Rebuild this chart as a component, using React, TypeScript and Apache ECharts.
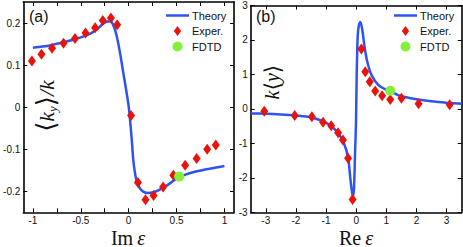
import React, { useEffect, useRef } from 'react';
import * as echarts from 'echarts';

// ---- Panel (a): <k_y>/k versus Im ε ----
const theoryAX = [-1.0, -0.9, -0.8, -0.7, -0.6, -0.5, -0.4, -0.33, -0.265, -0.23, -0.195, -0.16, -0.125, -0.09, -0.056, -0.021, 0.003, 0.031, 0.048, 0.065, 0.084, 0.11, 0.136, 0.17, 0.205, 0.29, 0.4, 0.5, 0.6, 0.7, 0.8, 0.9, 1.0];
const theoryAY = [0.141, 0.144, 0.148, 0.153, 0.159, 0.166, 0.175, 0.185, 0.199, 0.203, 0.204, 0.195, 0.169, 0.129, 0.082, 0.034, -0.003, -0.073, -0.125, -0.155, -0.176, -0.19, -0.198, -0.203, -0.204, -0.2, -0.186, -0.17, -0.16, -0.153, -0.148, -0.144, -0.14];
const experAX = [-1.01, -0.91, -0.8, -0.68, -0.56, -0.45, -0.35, -0.27, -0.185, -0.12, 0.025, 0.097, 0.176, 0.26, 0.36, 0.467, 0.59, 0.71, 0.82, 0.91];
const experAY = [0.11, 0.126, 0.14, 0.152, 0.163, 0.176, 0.189, 0.206, 0.212, 0.196, -0.02, -0.179, -0.22, -0.21, -0.19, -0.162, -0.138, -0.122, -0.1, -0.09];
const fdtdAX = [0.527];
const fdtdAY = [-0.165];
const xLabelsA = [-1, -0.5, 0, 0.5, 1];
const xTicksA = [-1, -0.75, -0.5, -0.25, 0, 0.25, 0.5, 0.75, 1];
const yLabelsA = [-0.2, -0.1, 0, 0.1, 0.2];

// ---- Panel (b): k<y> versus Re ε ----
const theoryBX = [-3.5, -3.0, -2.5, -2.0, -1.5, -1.08, -0.8, -0.58, -0.42, -0.27, -0.2, -0.15, -0.11, -0.073, -0.04, -0.007, 0.015, 0.05, 0.093, 0.137, 0.2, 0.27, 0.37, 0.51, 0.73, 1.01, 1.12, 1.45, 2.0, 2.5, 3.0, 3.5];
const theoryBY = [-0.13, -0.14, -0.16, -0.19, -0.24, -0.37, -0.52, -0.73, -0.97, -1.4, -1.97, -2.35, -2.55, -2.3, -1.35, -0.4, 0.9, 2.12, 2.45, 2.52, 2.31, 1.84, 1.36, 0.98, 0.7, 0.55, 0.52, 0.38, 0.28, 0.22, 0.18, 0.15];
const experBX = [-3.05, -2.04, -1.47, -1.1, -0.83, -0.6, -0.44, -0.27, -0.12, 0.17, 0.3, 0.45, 0.63, 0.86, 1.13, 1.5, 2.07, 3.1];
const experBY = [-0.07, -0.19, -0.23, -0.39, -0.49, -0.69, -0.9, -1.43, -2.63, 1.74, 1.08, 0.79, 0.52, 0.38, 0.27, 0.31, 0.15, 0.12];
const fdtdBX = [1.13];
const fdtdBY = [0.53];
const xLabelsB = [-3, -2, -1, 0, 1, 2, 3];
const yLabelsB = [-3, -2, -1, 0, 1, 2, 3];

const legendNames = ['Theory', 'Exper.', 'FDTD'];

const zip = (xs: number[], ys: number[]) => xs.map((x, i) => [x, ys[i]]);

const BLUE = '#2f52f2';
const RED = '#e8140c';
const GREEN = '#84f03a';
const LABEL_FONT = 'Liberation Sans, Arial, sans-serif';

function axis(
  gridIndex: number,
  position: string,
  min: number,
  max: number,
  labels: number[],
  ticks: number[],
  showLabels: boolean
) {
  return {
    type: 'value',
    gridIndex,
    position,
    min,
    max,
    splitLine: { show: false },
    axisLine: { show: true, onZero: false, lineStyle: { color: '#000', width: 1.6 } },
    axisTick: { show: true, inside: true, length: 4, customValues: ticks, lineStyle: { color: '#000', width: 1 } },
    axisLabel: {
      show: showLabels,
      customValues: labels,
      margin: 3,
      color: '#111',
      fontSize: 10,
      lineHeight: 11,
      fontFamily: LABEL_FONT,
    },
  };
}

export default function App() {
  const ref = useRef<HTMLDivElement>(null);
  useEffect(() => {
    if (!ref.current) return;
    const chart = echarts.init(ref.current, undefined, { renderer: 'svg' });
    const gridA = { left: 23.3, top: 2, width: 210.7, height: 210.3 };
    const gridB = { left: 250.7, top: 2, width: 211, height: 210.3 };
    const lineSeries = (name: string, idx: number, data: number[][]) => ({
      name,
      type: 'line',
      xAxisIndex: idx * 2,
      yAxisIndex: idx * 2,
      data,
      symbol: 'none',
      showSymbol: false,
      smooth: 0.25,
      lineStyle: { color: BLUE, width: 2.5 },
      itemStyle: { color: BLUE },
      z: 2,
    });
    const diamondSeries = (name: string, idx: number, data: number[][]) => ({
      name,
      type: 'scatter',
      xAxisIndex: idx * 2,
      yAxisIndex: idx * 2,
      data,
      symbol: 'diamond',
      symbolSize: [8, 11],
      itemStyle: { color: RED, opacity: 1 },
      z: 3,
    });
    const circleSeries = (name: string, idx: number, data: number[][]) => ({
      name,
      type: 'scatter',
      xAxisIndex: idx * 2,
      yAxisIndex: idx * 2,
      data,
      symbol: 'circle',
      symbolSize: 10,
      itemStyle: { color: GREEN, opacity: 1 },
      z: 4,
    });
    const legendIcons = [
      'path://M0 0H23V2.5H0Z',
      'path://M4 0L8 5.5L4 11L0 5.5Z',
      'circle',
    ];
    const legendBase = {
      orient: 'vertical',
      data: legendNames.map((name, i) => ({ name, icon: legendIcons[i] })),
      itemWidth: 23,
      itemHeight: 10,
      itemGap: 4.5,
      padding: 0,
      selectedMode: false,
      textStyle: { fontSize: 11, fontFamily: LABEL_FONT, color: '#111', padding: [0, 0, 0, -2] },
    };
    const axisName = (text: string, x: number) => ({
      type: 'text', x, y: 237.5,
      style: {
        text: `{r|${text}}{i|ε}`, align: 'center', verticalAlign: 'middle',
        rich: {
          r: { fontSize: 20, lineHeight: 17, fontFamily: 'Liberation Serif, serif', fill: '#111', padding: [0, 4, 0, 0] },
          i: { fontSize: 20, lineHeight: 17, fontFamily: 'Liberation Serif, serif', fontStyle: 'italic', fill: '#111' },
        },
      },
    });
    const option: any = {
      animation: false,
      backgroundColor: '#fff',
      grid: [gridA, gridB],
      xAxis: [
        axis(0, 'bottom', -1.1, 1.1, xLabelsA, xTicksA, true),
        axis(0, 'top', -1.1, 1.1, xLabelsA, xTicksA, false),
        axis(1, 'bottom', -3.5, 3.5, xLabelsB, xLabelsB, true),
        axis(1, 'top', -3.5, 3.5, xLabelsB, xLabelsB, false),
      ],
      yAxis: [
        axis(0, 'left', -0.25, 0.25, yLabelsA, yLabelsA, true),
        axis(0, 'right', -0.25, 0.25, yLabelsA, yLabelsA, false),
        axis(1, 'left', -3, 3, yLabelsB, yLabelsB, true),
        axis(1, 'right', -3, 3, yLabelsB, yLabelsB, false),
      ],
      legend: [
        { ...legendBase, left: 166, top: 10 },
        { ...legendBase, left: 394, top: 10 },
      ],
      series: [
        lineSeries('Theory', 0, zip(theoryAX, theoryAY)),
        diamondSeries('Exper.', 0, zip(experAX, experAY)),
        circleSeries('FDTD', 0, zip(fdtdAX, fdtdAY)),
        lineSeries('Theory', 1, zip(theoryBX, theoryBY)),
        diamondSeries('Exper.', 1, zip(experBX, experBY)),
        circleSeries('FDTD', 1, zip(fdtdBX, fdtdBY)),
      ],
      graphic: [
        {
          type: 'text', left: 29, top: 8,
          style: { text: '(a)', fontSize: 16, fontFamily: LABEL_FONT, fill: '#111' },
        },
        {
          type: 'text', left: 256, top: 8,
          style: { text: '(b)', fontSize: 16, fontFamily: LABEL_FONT, fill: '#111' },
        },
        axisName('Im', 128),
        axisName('Re', 356),
        {
          type: 'text', x: 46, y: 106, rotation: Math.PI / 2,
          style: {
            text: '{br|⟨}{k|k}{s|y}{br|⟩}{k|/}{k|k}', align: 'center', verticalAlign: 'middle',
            rich: {
              br: { fontSize: 26, fontFamily: 'DejaVu Serif, serif', fill: '#111' },
              k: { fontSize: 22, fontFamily: 'Liberation Serif, serif', fontStyle: 'italic', fill: '#111' },
              s: { fontSize: 13, fontFamily: 'Liberation Serif, serif', fontStyle: 'italic', fill: '#111', verticalAlign: 'bottom', padding: [8, 0, 0, 0] },
            },
          },
        },
        {
          type: 'text', x: 272, y: 82, rotation: Math.PI / 2,
          style: {
            text: '{k|k}{br|⟨}{k|y}{br|⟩}', align: 'center', verticalAlign: 'middle',
            rich: {
              br: { fontSize: 22, fontFamily: 'DejaVu Serif, serif', fill: '#111' },
              k: { fontSize: 20, fontFamily: 'Liberation Serif, serif', fontStyle: 'italic', fill: '#111' },
            },
          },
        },
      ],
    };
    chart.setOption(option);
    return () => chart.dispose();
  }, []);
  return (
    <div
      ref={ref}
      style={{ position: 'absolute', left: 0, top: 0, width: 463, height: 247, background: '#fff' }}
    />
  );
}
